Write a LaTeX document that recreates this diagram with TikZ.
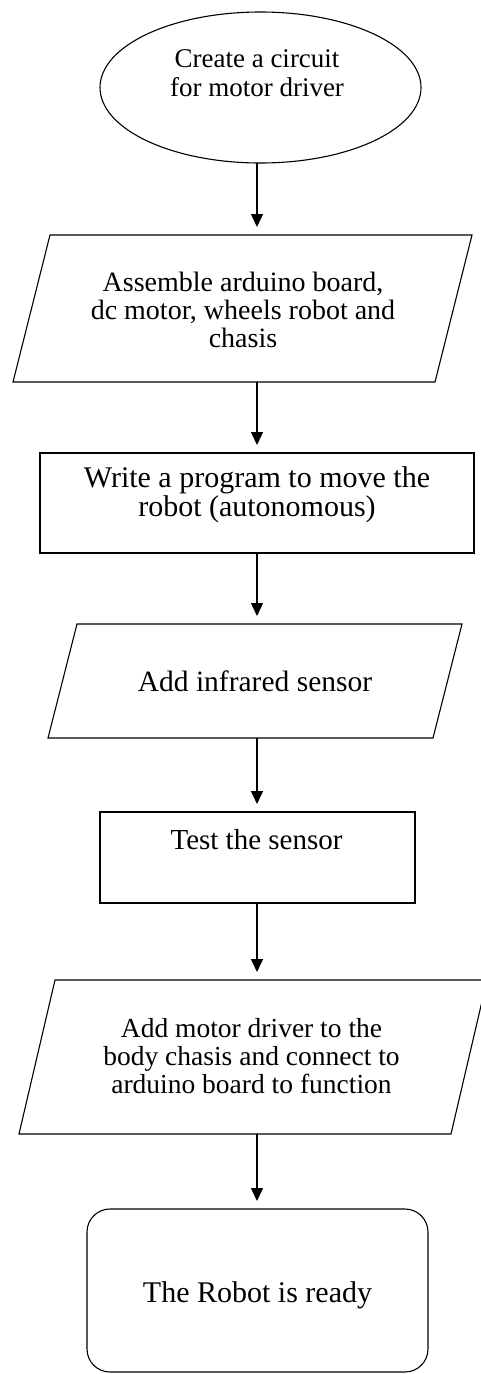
\documentclass[tikz,border=0pt]{standalone}
\usepackage{fontspec}
\setmainfont{Liberation Serif}
\usetikzlibrary{shapes.geometric,arrows.meta,calc}
\begin{document}
\begin{tikzpicture}[x=1pt,y=-1pt,
 shp/.style={draw, line width=1.1pt, inner sep=0pt, outer sep=0pt},
 frame/.style={draw=none, inner sep=0pt, outer sep=0pt},
 pline/.style={line width=1.1pt, line join=miter},
 txt/.style={align=center, inner sep=0pt},
 flow/.style={-{Triangle[length=13pt,width=12pt]}, line width=1.4pt, shorten >=8pt}]
\useasboundingbox (0,0) rectangle (481,1374);
\clip (0,0) rectangle (481,1374);
\fill[white] (0,0) rectangle (481,1374);
\coordinate (ax) at (257,0);

\node[shp, ellipse, minimum width=321pt, minimum height=151pt] (e1) at (260.5,87.5) {};
\node[txt, font=\fontsize{27pt}{28.4pt}\selectfont] (e1t) at (257,73.3) {Create a circuit\\for motor driver};

\node[frame, minimum width=459pt, minimum height=147pt] (p1) at (242.5,308.5) {};
\draw[pline] (p1.south west) -- ([xshift=37pt]p1.north west) -- (p1.north east) -- ([xshift=-37pt]p1.south east) -- cycle;
\node[txt, font=\fontsize{28pt}{28pt}\selectfont] (p1t) at (243,309.5) {Assemble arduino board,\\dc motor, wheels robot and\\chasis};

\node[shp, minimum width=434pt, minimum height=100pt] (r1) at (257,503) {};
\node[txt, font=\fontsize{30pt}{29pt}\selectfont] (r1t) at (257,495.2) {Write a program to move the\\robot (autonomous)};

\node[frame, minimum width=414pt, minimum height=114pt] (p2) at (255,681) {};
\draw[pline] (p2.south west) -- ([xshift=29pt]p2.north west) -- (p2.north east) -- ([xshift=-29pt]p2.south east) -- cycle;
\node[txt, font=\fontsize{29.5pt}{29.5pt}\selectfont] (p2t) at (255,681.6) {Add infrared sensor};

\node[shp, minimum width=315pt, minimum height=91pt] (r2) at (257.5,857.5) {};
\node[txt, font=\fontsize{29pt}{29pt}\selectfont] (r2t) at (256.5,840) {Test the sensor};

\node[frame, minimum width=468pt, minimum height=154pt] (p3) at (253,1057) {};
\draw[pline] (p3.south west) -- ([xshift=36pt]p3.north west) -- (p3.north east) -- ([xshift=-36pt]p3.south east) -- cycle;
\node[txt, font=\fontsize{27.5pt}{28pt}\selectfont] (p3t) at (251.5,1055.6) {Add motor driver to the\\body chasis and connect to\\arduino board to function};

\node[shp, rounded corners=23pt, minimum width=341pt, minimum height=163pt] (f1) at (257.5,1290.5) {};
\node[txt, font=\fontsize{30pt}{30pt}\selectfont] (f1t) at (257.5,1295) {The Robot is ready};

\draw[flow] (e1.south -| ax) -- (p1.north -| ax);
\draw[flow] (p1.south -| ax) -- (r1.north -| ax);
\draw[flow] (r1.south -| ax) -- (p2.north -| ax);
\draw[flow] (p2.south -| ax) -- (r2.north -| ax);
\draw[flow] (r2.south -| ax) -- (p3.north -| ax);
\draw[flow] (p3.south -| ax) -- (f1.north -| ax);
\end{tikzpicture}
\end{document}
